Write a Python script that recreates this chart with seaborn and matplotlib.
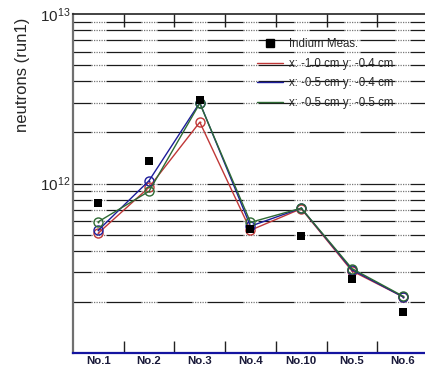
import numpy as np
import pandas as pd
import matplotlib
matplotlib.use("Agg")
import matplotlib.pyplot as plt
import seaborn as sns
from matplotlib.lines import Line2D

categories = ["No.1", "No.2", "No.3", "No.4", "No.10", "No.5", "No.6"]
indium_meas = [7.7e11, 1.36e12, 3.1e12, 5.4e11, 4.9e11, 2.73e11, 1.75e11]
sim_x10_y04 = [5.1e11, 9.5e11, 2.3e12, 5.3e11, 7.1e11, 3.05e11, 2.15e11]
sim_x05_y04 = [5.3e11, 1.04e12, 3.0e12, 5.6e11, 7.15e11, 3.1e11, 2.15e11]
sim_x05_y05 = [5.95e11, 9.0e11, 2.97e12, 5.9e11, 7.15e11, 3.15e11, 2.17e11]
series_labels = ["x: -1.0 cm y: -0.4 cm", "x: -0.5 cm y: -0.4 cm", "x: -0.5 cm y: -0.5 cm"]
series_colors = ["#c03838", "#1c1c9a", "#2e6a34"]

sns.set_style("white")
plt.rcParams["font.family"] = ["Liberation Sans", "DejaVu Sans"]
plt.rcParams["mathtext.default"] = "regular"

pos = np.arange(len(categories))
df = pd.DataFrame({"pos": pos, "meas": indium_meas})
sim_df = pd.concat([
    pd.DataFrame({"pos": pos, "value": vals, "series": lab})
    for vals, lab in zip([sim_x10_y04, sim_x05_y04, sim_x05_y05], series_labels)
])

fig = plt.figure(figsize=(4.25, 3.69), dpi=100)
ax = fig.add_axes([73 / 425, 1 - 353 / 369, 355 / 425, 339 / 369])
ax.set_yscale("log")
ax.set_ylim(1e11, 1e13)
ax.set_xlim(-0.5, len(categories) - 0.5)

# grid lines: solid with short dotted segments around category centers
grid_vals = [m * 10.0 ** e for e in (11, 12) for m in range(1, 10)][1:]
half = 0.15
for gv in grid_vals:
    for i in range(-1, len(categories)):
        a = max(i + half, -0.5)
        b = min(i + 1 - half, len(categories) - 0.5)
        ax.plot([a, b], [gv, gv], color="#1a1a1a", lw=0.9, zorder=1, solid_capstyle="butt")
    for i in range(len(categories)):
        ax.plot([i - half, i + half], [gv, gv], color="#777777", lw=0.9,
                ls=(0, (1, 1)), zorder=1)

for lab, col in zip(series_labels, series_colors):
    sub = sim_df[sim_df["series"] == lab]
    sns.lineplot(data=sub, x="pos", y="value", ax=ax, color=col, lw=1.0,
                 marker="o", markersize=6.5, markerfacecolor="none",
                 markeredgecolor=col, markeredgewidth=1.0, sort=False,
                 legend=False, zorder=3)
    sns.scatterplot(data=sub, x="pos", y="value", ax=ax, color=col, s=2,
                    linewidth=0, legend=False, zorder=3)

sns.scatterplot(data=df, x="pos", y="meas", ax=ax, marker="s", color="black",
                s=30, linewidth=0, legend=False, zorder=4)

ax.set_xticks(pos)
ax.set_xticklabels(categories, fontsize=8.2, fontweight="bold", color="#1a1a3a")
ax.set_xticks(pos[:-1] + 0.5, minor=True)
ax.tick_params(axis="x", which="major", length=0, pad=2.5)
ax.tick_params(axis="x", which="minor", direction="in", length=9, width=1.0,
               color="#222222", top=True, bottom=True)
ax.set_yticks([1e12, 1e13])
ax.set_yticklabels([r"$10^{12}$", r"$10^{13}$"], fontsize=11)
ax.yaxis.set_minor_locator(matplotlib.ticker.NullLocator())
ax.tick_params(axis="y", which="major", length=0, pad=2)
ax.set_xlabel("")
ax.set_ylabel("neutrons (run1)", fontsize=12)
ax.yaxis.set_label_coords(-0.122, 0.82)

for side in ("left", "bottom", "top", "right"):
    ax.spines[side].set_visible(True)
ax.spines["left"].set_color("#707070")
ax.spines["left"].set_linewidth(1.6)
ax.spines["bottom"].set_color("#1414a0")
ax.spines["bottom"].set_linewidth(1.6)
ax.spines["top"].set_color("#222222")
ax.spines["top"].set_linewidth(1.2)
ax.spines["right"].set_visible(False)

handles = [Line2D([], [], marker="s", color="black", ls="none", markersize=5.5)]
handles += [Line2D([], [], color=c, lw=1.0) for c in series_colors]
labels = ["Indium Meas."] + series_labels
ax.legend(handles, labels, loc="upper left", bbox_to_anchor=(0.518, 0.928),
          frameon=False, fontsize=8.3, handlelength=2.3, handletextpad=0.5,
          labelspacing=0.65, borderpad=0, borderaxespad=0)

fig.savefig("out.png", dpi=100)
